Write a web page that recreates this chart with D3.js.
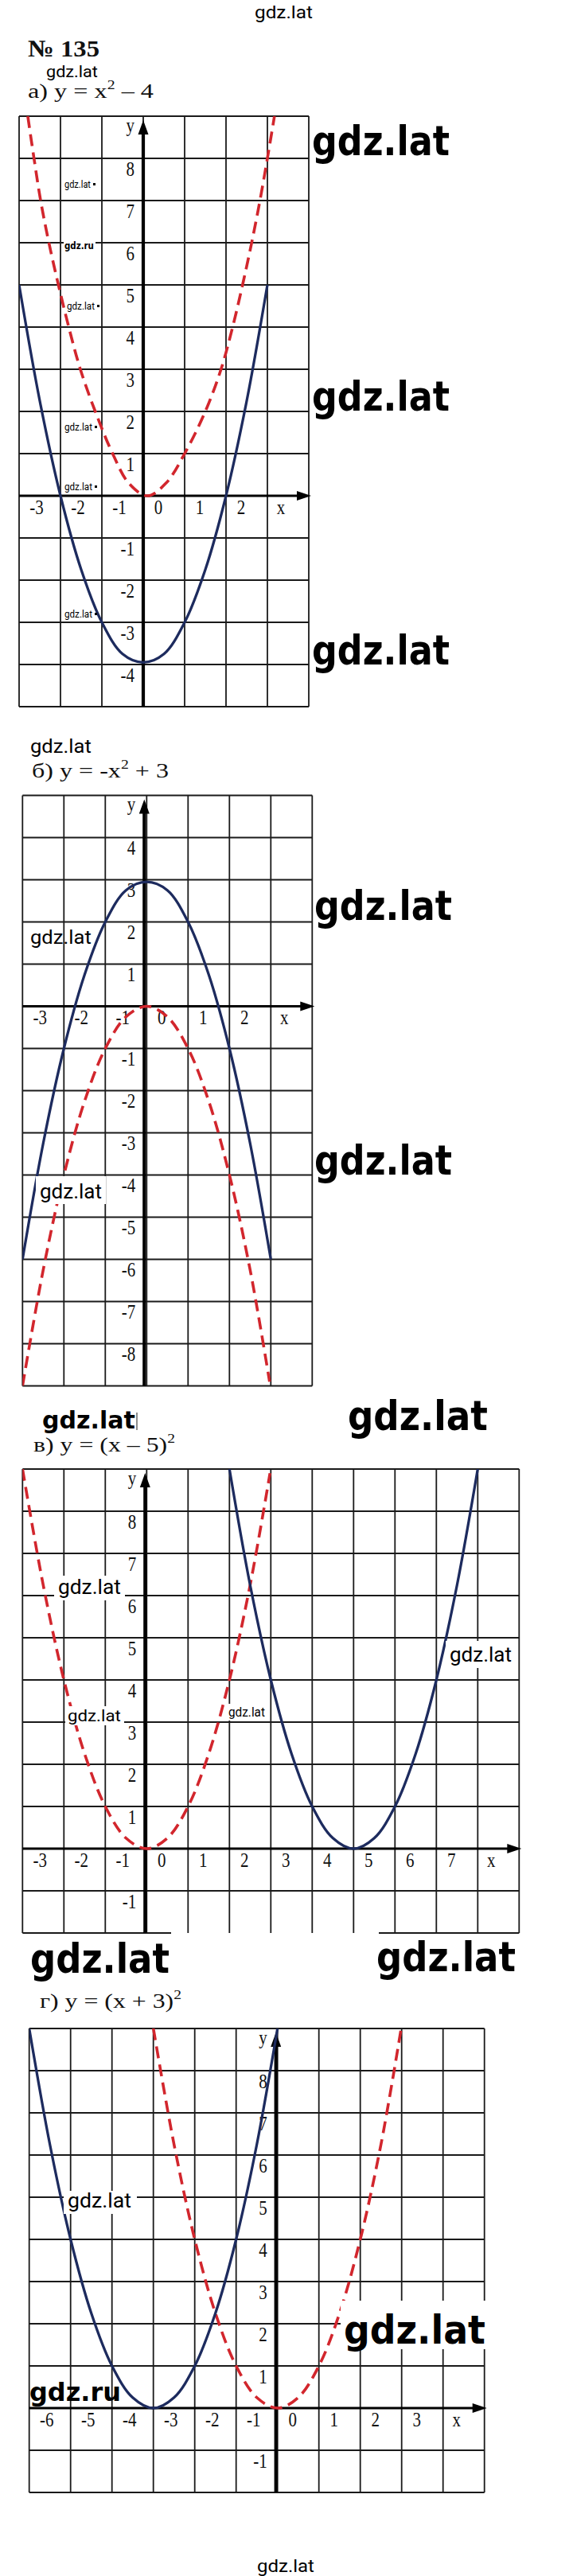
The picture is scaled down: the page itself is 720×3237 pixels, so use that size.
<!DOCTYPE html>
<html><head><meta charset="utf-8">
<script src="https://cdnjs.cloudflare.com/ajax/libs/d3/7.8.5/d3.min.js"></script>
<style>html,body{margin:0;padding:0;background:#fff;} svg{display:block;}</style>
</head><body><svg id="c" width="720" height="3237"></svg>
<script>
// ================= DATA =================
// а) y = x² – 4  (blue) and y = x² (red dashed)
const aBlueX = [-3,-2.5,-2,-1.5,-1,-0.5,0,0.5,1,1.5,2,2.5,3];
const aBlueY = [5,2.25,0,-1.75,-3,-3.75,-3.95,-3.75,-3,-1.75,0,2.25,5];
const aRedX  = [-2.79,-2.64,-2.48,-2.28,-2.05,-1.8,-1.52,-1.16,-0.74,-0.35,0.1,0.55,1.0,1.5,1.88,2.16,2.4,2.62,2.82,3.0,3.17];
const aRedY  = [9,8,7,6,5,4,3,2,1,0.3,0,0.3,1,2,3,4,5,6,7,8,9];
const aXTicks = [-3,-2,-1,0,1,2];
const aYTicks = [8,7,6,5,4,3,2,1,-1,-2,-3,-4];

// б) y = -x² + 3 (blue) and y = -x² (red dashed)
const bBlueX = [-3,-2.5,-2,-1.5,-1,-0.5,0,0.5,1,1.5,2,2.5,3];
const bBlueY = [-6,-3.25,-1,0.75,2,2.75,2.95,2.75,2,0.75,-1,-3.25,-6];
const bRedX  = [-3,-2.5,-2,-1.5,-1,-0.5,0,0.5,1,1.5,2,2.5,2.97];
const bRedY  = [-9,-6.25,-4,-2.25,-1,-0.25,0,-0.25,-1,-2.25,-4,-6.25,-8.9];
const bXTicks = [-3,-2,-1,0,1,2];
const bYTicks = [4,3,2,1,-1,-2,-3,-4,-5,-6,-7,-8];

// в) y = (x – 5)² (blue) and y = x² (red dashed)
const cBlueX = [2,2.5,3,3.5,4,4.5,5,5.5,6,6.5,7,7.5,8];
const cBlueY = [9,6.25,4,2.25,1,0.25,0,0.25,1,2.25,4,6.25,9];
const cRedX  = [-3,-2.5,-2,-1.5,-1,-0.5,0,0.5,1,1.5,2,2.5,2.98];
const cRedY  = [9,6.25,4,2.25,1,0.25,0,0.25,1,2.25,4,6.25,8.9];
const cXTicks = [-3,-2,-1,0,1,2,3,4,5,6,7];
const cYTicks = [8,7,6,5,4,3,2,1,-1];

// г) y = (x + 3)² (blue) and y = x² (red dashed)
const dBlueX = [-6,-5.5,-5,-4.5,-4,-3.5,-3,-2.5,-2,-1.5,-1,-0.5,0];
const dBlueY = [9,6.25,4,2.25,1,0.25,0,0.25,1,2.25,4,6.25,9];
const dRedX  = [-3,-2.5,-2,-1.5,-1,-0.5,0,0.5,1,1.5,2,2.5,2.98];
const dRedY  = [9,6.25,4,2.25,1,0.25,0,0.25,1,2.25,4,6.25,8.95];
const dXTicks = [-6,-5,-4,-3,-2,-1,0,1,2,3];
const dYTicks = [8,7,6,5,4,3,2,1,-1];

// ================= LAYOUT / STYLE =================
const UX = 52, UY = 53;
const BLUE = '#1d2b5e', RED = '#d2262d', INK = '#111', GRID = '#1a1a1a';
const SERIF = "'Liberation Serif','Times New Roman',serif";
const SANS = "Roboto,'Liberation Sans',Arial,sans-serif";
const HEAVY = "'DejaVu Sans',Verdana,sans-serif";

const zip = (xs, ys) => xs.map((v, i) => [v, ys[i]]);

const panels = [
  {xMin:-3, xMax:4, yMin:-5, yMax:9, left:24,   top:146,  axisDX:0,
   xTicks:aXTicks, yTicks:aYTicks, blue:zip(aBlueX,aBlueY), red:zip(aRedX,aRedY)},
  {xMin:-3, xMax:4, yMin:-9, yMax:5, left:28.3, top:999.5, axisDX:-3,
   xTicks:bXTicks, yTicks:bYTicks, blue:zip(bBlueX,bBlueY), red:zip(bRedX,bRedY)},
  {xMin:-3, xMax:9, yMin:-2, yMax:9, left:28.3, top:1846, axisDX:-2, bottomGap:[215,476],
   xTicks:cXTicks, yTicks:cYTicks, blue:zip(cBlueX,cBlueY), red:zip(cRedX,cRedY)},
  {xMin:-6, xMax:5, yMin:-2, yMax:9, left:36.7, top:2549, axisDX:-2,
   xTicks:dXTicks, yTicks:dYTicks, blue:zip(dBlueX,dBlueY), red:zip(dRedX,dRedY)}
];

const svg = d3.select('#c');
svg.append('rect').attr('width',720).attr('height',3237).attr('fill','#fff');
const defs = svg.append('defs');

function fit(node, x, w) {
  const bw = node.getBBox().width;
  if (bw > 0) node.setAttribute('transform', `translate(${x},0) scale(${w/bw},1) translate(${-x},0)`);
}
const stretchY = (b, k) => `matrix(1,0,0,${k},0,${-(k - 1) * b})`;

panels.forEach((p, i) => {
  const x = d3.scaleLinear().domain([p.xMin, p.xMax]).range([p.left, p.left + (p.xMax - p.xMin) * UX]);
  const y = d3.scaleLinear().domain([p.yMin, p.yMax]).range([p.top + (p.yMax - p.yMin) * UY, p.top]);
  const g = svg.append('g');
  const xL = x(p.xMin), xR = x(p.xMax), yT = y(p.yMax), yB = y(p.yMin);

  // grid
  g.selectAll('line.v').data(d3.range(p.xMin, p.xMax + 1)).join('line').attr('class','v')
    .attr('x1', d => x(d)).attr('x2', d => x(d)).attr('y1', yT).attr('y2', yB)
    .attr('stroke', GRID).attr('stroke-width', 1.8);
  const hs = d3.range(p.yMin, p.yMax + 1).filter(d => !(p.bottomGap && d === p.yMin));
  g.selectAll('line.h').data(hs).join('line').attr('class','h')
    .attr('x1', xL).attr('x2', xR).attr('y1', d => y(d)).attr('y2', d => y(d))
    .attr('stroke', GRID).attr('stroke-width', 1.8);
  if (p.bottomGap) {
    [[xL, p.bottomGap[0]], [p.bottomGap[1], xR]].forEach(s =>
      g.append('line').attr('x1', s[0]).attr('x2', s[1]).attr('y1', yB).attr('y2', yB)
        .attr('stroke', GRID).attr('stroke-width', 1.8));
  }

  // axes
  const ax = x(0) + p.axisDX, ay = y(0);
  const tipY = yT + 5;
  g.append('line').attr('x1', ax).attr('x2', ax).attr('y1', tipY + 12).attr('y2', yB)
    .attr('stroke', '#000').attr('stroke-width', 4.2);
  g.append('path').attr('d', `M${ax},${tipY}L${ax-6.5},${tipY+18}L${ax+6.5},${tipY+18}Z`).attr('fill', '#000');
  const tipX = xR + 3;
  g.append('line').attr('x1', xL).attr('x2', tipX - 12).attr('y1', ay).attr('y2', ay)
    .attr('stroke', '#000').attr('stroke-width', 3.2);
  g.append('path').attr('d', `M${tipX},${ay}L${tipX-18},${ay-6}L${tipX-18},${ay+6}Z`).attr('fill', '#000');

  // tick labels
  const lab = g.append('g').attr('font-family', SERIF).attr('font-size', 21).attr('fill', INK);
  const by = ay + 23;
  lab.selectAll('text.xt').data(p.xTicks).join('text').attr('class','xt')
    .attr('x', d => x(d) + 19 + (d < 0 ? 3 : 0)).attr('y', by)
    .attr('text-anchor', 'middle').attr('transform', stretchY(by, 1.2)).text(d => String(d));
  lab.append('text').attr('x', x(p.xMax - 1) + 17).attr('y', by).attr('text-anchor','middle')
    .attr('transform', stretchY(by, 1.2)).text('x');
  lab.selectAll('text.yt').data(p.yTicks).join('text').attr('class','yt')
    .attr('x', ax - 11).attr('y', d => y(d) + 22)
    .attr('text-anchor', 'end').attr('transform', d => stretchY(y(d) + 22, 1.2)).text(d => String(d));
  lab.append('text').attr('x', ax - 11).attr('y', yT + 20).attr('text-anchor','end')
    .attr('transform', stretchY(yT + 20, 1.2)).text('y');

  // curves
  defs.append('clipPath').attr('id', 'clip' + i).append('rect')
    .attr('x', xL).attr('y', yT).attr('width', xR - xL).attr('height', yB - yT);
  const line = d3.line().x(d => x(d[0])).y(d => y(d[1])).curve(d3.curveCatmullRom.alpha(0.5));
  const cg = g.append('g').attr('clip-path', `url(#clip${i})`).attr('fill', 'none');
  cg.append('path').attr('d', line(p.red)).attr('stroke', RED).attr('stroke-width', 3.6)
    .attr('stroke-dasharray', '15,8');
  cg.append('path').attr('d', line(p.blue)).attr('stroke', BLUE).attr('stroke-width', 3.3);
});

// ================= TITLES =================
const titles = [
  {parts:[['№ 135']], x:35, y:71, w:90, fs:30, bold:true},
  {parts:[['а) y = x'],['2',true],[' – 4']], x:35, y:123, w:158, fs:26},
  {parts:[['б) y = -x'],['2',true],[' + 3']], x:40, y:977, w:172, fs:26},
  {parts:[['в) y = (x – 5)'],['2',true]], x:42, y:1824, w:178, fs:26},
  {parts:[['г) y = (x + 3)'],['2',true]], x:50, y:2523, w:178, fs:26}
];
titles.forEach(t => {
  const tx = svg.append('text').attr('x', t.x).attr('y', t.y).attr('font-family', SERIF)
    .attr('font-size', t.fs).attr('font-weight', t.bold ? 'bold' : 'normal').attr('fill', INK);
  let up = false;
  t.parts.forEach(pt => {
    const s = tx.append('tspan').text(pt[0]);
    if (pt[1]) { s.attr('font-size', 16).attr('dy', -11); up = true; }
    else if (up) { s.attr('dy', 11); up = false; }
  });
  fit(tx.node(), t.x, t.w);
});

// ================= WATERMARKS =================
const marks = [
  {t:'gdz.lat', x:320, y:23,   w:73,  fs:22},
  {t:'gdz.lat', x:58,  y:97,   w:65,  fs:20},
  {t:'gdz.lat', x:392, y:195,  w:173, fs:52, bold:true},
  {t:'gdz.lat', x:392, y:516,  w:173, fs:52, bold:true},
  {t:'gdz.lat', x:392, y:835,  w:173, fs:52, bold:true},
  {t:'gdz.lat', x:81,  y:236,  w:33,  fs:13, dot:true},
  {t:'gdz.ru',  x:81,  y:313,  w:37,  fs:13, bold:true, bg:[80,302,40,14]},
  {t:'gdz.lat', x:84,  y:389,  w:35,  fs:13, dot:true},
  {t:'gdz.lat', x:81,  y:541,  w:35,  fs:13, dot:true},
  {t:'gdz.lat', x:81,  y:616,  w:35,  fs:13, dot:true},
  {t:'gdz.lat', x:81,  y:776,  w:35,  fs:13, dot:true},
  {t:'gdz.lat', x:38,  y:946,  w:77,  fs:24},
  {t:'gdz.lat', x:38,  y:1186, w:77,  fs:24},
  {t:'gdz.lat', x:50,  y:1506, w:78,  fs:26, bg:[45,1478,88,35]},
  {t:'gdz.lat', x:395, y:1156, w:173, fs:52, bold:true},
  {t:'gdz.lat', x:395, y:1476, w:173, fs:52, bold:true},
  {t:'gdz.lat', x:53,  y:1795, w:117, fs:30, bold:true, bar:true},
  {t:'gdz.lat', x:437, y:1797, w:176, fs:52, bold:true},
  {t:'gdz.lat', x:73,  y:2003, w:79,  fs:26, bg:[68,1980,89,31]},
  {t:'gdz.lat', x:85,  y:2163, w:67,  fs:21, bg:[82,2144,74,24]},
  {t:'gdz.lat', x:287, y:2157, w:46,  fs:16, bg:[285,2141,51,21]},
  {t:'gdz.lat', x:565, y:2088, w:78,  fs:26, bg:[560,2062,90,34]},
  {t:'gdz.lat', x:38,  y:2479, w:175, fs:52, bold:true},
  {t:'gdz.lat', x:473, y:2477, w:175, fs:52, bold:true},
  {t:'gdz.lat', x:85,  y:2774, w:80,  fs:25, bg:[80,2753,92,29]},
  {t:'gdz.ru',  x:37,  y:3017, w:115, fs:32, bold:true},
  {t:'gdz.lat', x:432, y:2945, w:178, fs:50, bold:true, bg:[428,2891,185,61]},
  {t:'gdz.lat', x:323, y:3232, w:72,  fs:22}
];
marks.forEach(m => {
  if (m.bg) svg.append('rect').attr('x', m.bg[0]).attr('y', m.bg[1]).attr('width', m.bg[2])
    .attr('height', m.bg[3]).attr('fill', '#fff');
  const tx = svg.append('text').attr('x', m.x).attr('y', m.y)
    .attr('font-family', m.bold ? HEAVY : SANS).attr('font-weight', m.bold ? 'bold' : 'normal')
    .attr('font-size', m.fs).attr('fill', '#000').text(m.t);
  fit(tx.node(), m.x, m.w);
  if (m.dot) svg.append('rect').attr('x', m.x + m.w + 3).attr('y', m.y - 6).attr('width', 3).attr('height', 3).attr('fill', '#000');
  if (m.bar) svg.append('line').attr('x1', m.x + m.w + 2).attr('x2', m.x + m.w + 2)
    .attr('y1', m.y - 20).attr('y2', m.y + 2).attr('stroke', '#444').attr('stroke-width', 1.2);
});
</script>
</body></html>
